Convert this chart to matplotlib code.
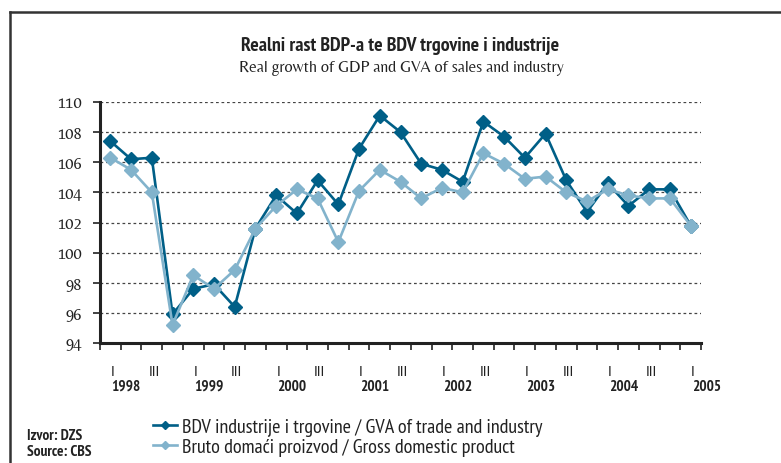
import matplotlib
matplotlib.use("Agg")
import matplotlib.pyplot as plt
from matplotlib.lines import Line2D
import numpy as np

quarters = ["I", "II", "III", "IV"] * 7 + ["I"]
years = ["1998", "1999", "2000", "2001", "2002", "2003", "2004", "2005"]
gva = [107.4, 106.2, 106.3, 95.9, 97.6, 97.9, 96.4, 101.6,
       103.8, 102.6, 104.8, 103.2, 106.9, 109.1, 108.0, 105.9,
       105.5, 104.7, 108.7, 107.7, 106.3, 107.9, 104.8, 102.7,
       104.6, 103.1, 104.2, 104.2, 101.8]
gdp = [106.3, 105.5, 104.0, 95.2, 98.5, 97.6, 98.85, 101.6,
       103.1, 104.2, 103.6, 100.7, 104.1, 105.5, 104.7, 103.6,
       104.3, 104.0, 106.6, 105.9, 104.9, 105.05, 104.0, 103.4,
       104.2, 103.8, 103.6, 103.6, 101.8]
yticks = [94, 96, 98, 100, 102, 104, 106, 108, 110]

dark = "#005F87"
light = "#82B3CC"
narrow = ["PT Sans Narrow", "DejaVu Sans"]
hum = ["Belleza", "DejaVu Sans"]

fig = plt.figure(figsize=(7.81, 4.64), dpi=100)
ax = fig.add_axes([100/781, 1-344/464, 601/781, 241/464])

x = np.arange(len(gva))
ax.plot(x, gva, color=dark, lw=1.9, marker="D", ms=7.5, zorder=3,
        label="BDV industrije i trgovine / GVA of trade and industry")
ax.plot(x, gdp, color=light, lw=1.9, marker="D", ms=7.5, zorder=4,
        label="Bruto domaći proizvod / Gross domestic product")

ax.set_xlim(-0.5, len(gva) - 0.5)
ax.set_ylim(94, 110)
ax.set_yticks(yticks)
ax.set_yticklabels([str(v) for v in yticks], fontfamily=hum, fontsize=12, color="#222222")
for v in yticks[1:]:
    ax.axhline(v, color="#444444", lw=0.9, ls=(0, (2.2, 2.2)), zorder=1)

ax.set_xticks(np.arange(-0.5, len(gva) + 0.5, 1))
ax.set_xticklabels([])
ax.tick_params(axis="x", direction="out", length=5, width=1.2, color="#222222")
ax.tick_params(axis="y", direction="out", length=5, width=1.2, color="#222222", pad=8)
for s in ["top", "right"]:
    ax.spines[s].set_visible(False)
ax.spines["left"].set_linewidth(2.2)
ax.spines["bottom"].set_linewidth(2.2)
ax.spines["left"].set_color("#222222")
ax.spines["bottom"].set_color("#222222")

trans = ax.get_xaxis_transform()
yi = 0
for i, q in enumerate(quarters):
    if q in ("I", "III"):
        ax.text(i + 0.1, -0.12, q, transform=trans, ha="center", va="center",
                fontfamily=hum, fontsize=10, color="#222222")
    if q == "I":
        ax.text(i + 0.05, -0.177, years[yi], transform=trans, ha="left", va="center",
                fontfamily=narrow, fontsize=11, fontweight="bold", color="#222222")
        yi += 1

fig.text(400/781, 1-46/464, "Realni rast BDP-a te BDV trgovine i industrije",
         ha="center", va="center", fontfamily=narrow, fontweight="bold",
         fontsize=14.3, color="#222222")
fig.text(401/781, 1-68/464, "Real growth of GDP and GVA of sales and industry",
         ha="center", va="center", fontfamily=hum, fontsize=11.5, color="#222222")

leg = fig.legend(loc="upper left", bbox_to_anchor=(153/781, 1-419/464),
                 frameon=False, prop={"family": narrow, "size": 14.5},
                 handlelength=1.2, handletextpad=0.25, labelspacing=0.08,
                 borderaxespad=0, borderpad=0, markerscale=0.55)
for t in leg.get_texts():
    t.set_color("#222222")

fig.text(27/781, 1-436/464, "Izvor: DZS", ha="left", va="center",
         fontfamily=narrow, fontweight="bold", fontsize=11, color="#222222")
fig.text(27/781, 1-452/464, "Source: CBS", ha="left", va="center",
         fontfamily=narrow, fontweight="bold", fontsize=11, color="#222222")

fig.add_artist(Line2D([10/781, 10/781], [0, 1-13/464], transform=fig.transFigure,
                      color="#333333", lw=1.8))
fig.add_artist(Line2D([10/781, 1], [1-13/464, 1-13/464], transform=fig.transFigure,
                      color="#333333", lw=1.8))

fig.savefig("out.png", dpi=100)
